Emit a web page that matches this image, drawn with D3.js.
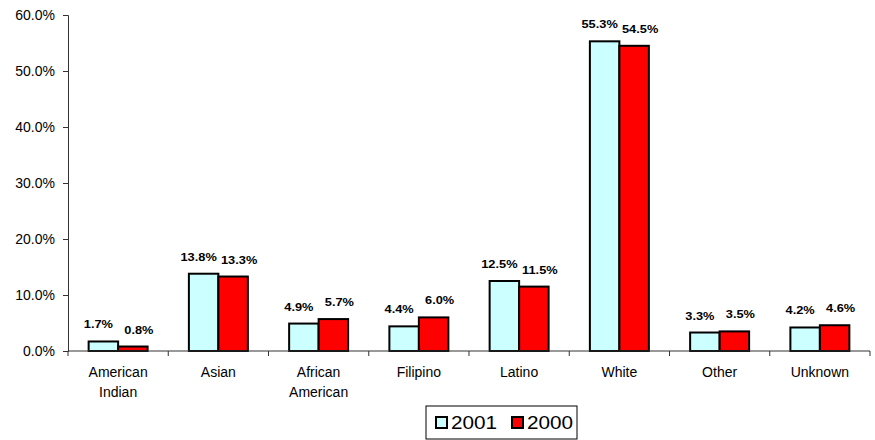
<!DOCTYPE html>
<html>
<head>
<meta charset="utf-8">
<script src="https://cdn.jsdelivr.net/npm/d3@7"></script>
<style>
  body { margin: 0; background: #fff; }
  text { font-family: "Liberation Sans", Arial, sans-serif; }
</style>
</head>
<body>
<script>
const categories = [["American", "Indian"], ["Asian"], ["African", "American"], ["Filipino"], ["Latino"], ["White"], ["Other"], ["Unknown"]];
const series = ["2001", "2000"];
const values2001 = [1.7, 13.8, 4.9, 4.4, 12.5, 55.3, 3.3, 4.2];
const values2000 = [0.8, 13.3, 5.7, 6.0, 11.5, 54.5, 3.5, 4.6];
const yTicks = [0, 10, 20, 30, 40, 50, 60];
const colors = ["#ccffff", "#ff0000"];

const width = 875, height = 440;
const margin = { left: 68, right: 5, top: 15, bottom: 89 };

const svg = d3.select("body").append("svg")
  .attr("width", width)
  .attr("height", height);

const x = d3.scaleBand()
  .domain(d3.range(categories.length))
  .range([margin.left, width - margin.right]);

const y = d3.scaleLinear()
  .domain([0, 60])
  .range([height - margin.bottom, margin.top]);

const bw = x.bandwidth() / (2 + 1.4);
const inner = d3.scaleBand().domain(series).range([0, bw * 2]);

// y axis
const yAxis = svg.append("g")
  .attr("transform", `translate(${margin.left},0)`)
  .call(d3.axisLeft(y).tickValues(yTicks).tickFormat(d => d.toFixed(1) + "%").tickSize(5).tickPadding(8));
yAxis.selectAll("text").attr("font-size", 14).attr("fill", "#000");
yAxis.selectAll("line").attr("stroke", "#333");
yAxis.select(".domain").attr("stroke", "#333");

// groups of bars
const data = [values2001, values2000];
const labelShift = [-5, 6];
series.forEach((s, si) => {
  const g = svg.append("g");
  g.selectAll("rect")
    .data(data[si])
    .join("rect")
    .attr("x", (d, i) => x(i) + bw * 0.7 + inner(s))
    .attr("y", d => y(d))
    .attr("width", bw)
    .attr("height", d => y(0) - y(d))
    .attr("fill", colors[si])
    .attr("stroke", "#000")
    .attr("stroke-width", 2);
  g.selectAll("text")
    .data(data[si])
    .join("text")
    .attr("transform", (d, i) =>
      `translate(${x(i) + bw * 0.7 + inner(s) + bw / 2 + labelShift[si]},${y(d) - 13}) scale(1.22,1)`)
    .attr("text-anchor", "middle")
    .attr("font-size", 10.5)
    .attr("font-weight", "bold")
    .text(d => d.toFixed(1) + "%");
});

// x axis
const xAxisG = svg.append("g");
xAxisG.append("line")
  .attr("x1", margin.left).attr("x2", width - margin.right)
  .attr("y1", y(0)).attr("y2", y(0))
  .attr("stroke", "#333");
xAxisG.selectAll(".tick")
  .data(d3.range(categories.length + 1))
  .join("line")
  .attr("x1", i => i < categories.length ? x(i) : x(i - 1) + x.bandwidth())
  .attr("x2", i => i < categories.length ? x(i) : x(i - 1) + x.bandwidth())
  .attr("y1", y(0)).attr("y2", y(0) + 5)
  .attr("stroke", "#333");
xAxisG.selectAll("text")
  .data(categories)
  .join("text")
  .attr("x", (d, i) => x(i) + x.bandwidth() / 2)
  .attr("y", y(0) + 26)
  .attr("text-anchor", "middle")
  .attr("font-size", 14)
  .selectAll("tspan")
  .data(d => d)
  .join("tspan")
  .attr("x", function () { return d3.select(this.parentNode).attr("x"); })
  .attr("dy", (d, i) => i === 0 ? 0 : 20)
  .text(d => d);

// legend
const legend = svg.append("g").attr("transform", "translate(426,406)");
legend.append("rect")
  .attr("width", 151).attr("height", 33)
  .attr("fill", "#fff").attr("stroke", "#000").attr("stroke-width", 1);
series.forEach((s, i) => {
  const lg = legend.append("g").attr("transform", `translate(${10 + i * 76},0)`);
  lg.append("rect")
    .attr("x", 0).attr("y", 11)
    .attr("width", 11).attr("height", 11)
    .attr("fill", colors[i]).attr("stroke", "#000").attr("stroke-width", 2);
  lg.append("text")
    .attr("transform", "translate(15,23) scale(1.12,1)")
    .attr("font-size", 18.5)
    .text(s);
});
</script>
</body>
</html>
